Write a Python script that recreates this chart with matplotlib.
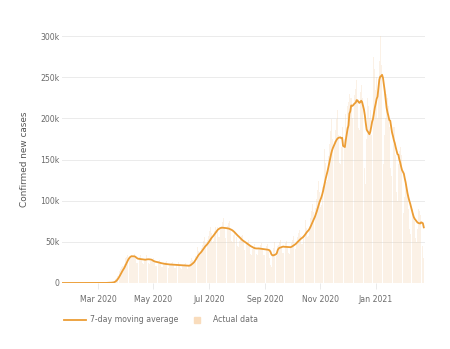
import numpy as np
import pandas as pd
import matplotlib
matplotlib.use("Agg")
import matplotlib.pyplot as plt
from matplotlib.lines import Line2D

start_date = "2020-01-22"

# daily confirmed new cases (thousands), one row per week, Wed..Tue
daily_k = [
    0, 0, 0, 0, 0, 0, 0,
    0, 0, 0, 0, 0, 0, 0,
    0, 0, 0, 0, 0, 0, 0,
    0, 0, 0, 0, 0, 0, 0,
    0, 0, 0, 0, 0, 0, 0,
    0, 0, 0, 0, 0, 0.05, 0.1,
    0.03, 0.05, 0.07, 0.1, 0.1, 0.15, 0.2,
    0.3, 0.4, 0.5, 0.5, 0.6, 0.6, 0.8,
    1.8, 3.0, 4.5, 6.5, 8.5, 11.0, 13.5,
    15.0, 17.5, 19.0, 20.5, 21.0, 23.5, 30.5,
    31.0, 33.5, 35.0, 33.5, 31.0, 30.0, 33.5,
    31.0, 33.0, 34.8, 30.1, 24.5, 24.2, 28.9,
    29.9, 31.9, 33.6, 29.1, 23.7, 23.4, 27.9,
    28.5, 33.5, 35.0, 29.5, 24.0, 22.5, 26.5,
    26.8, 28.6, 30.1, 26.0, 21.2, 20.9, 25.0,
    24.7, 26.3, 27.7, 24.0, 19.5, 19.3, 23.0,
    23.6, 25.2, 26.6, 23.0, 18.7, 18.5, 22.1,
    23.1, 24.6, 26.0, 22.4, 18.3, 18.0, 21.6,
    22.6, 24.1, 25.4, 21.9, 17.8, 17.6, 21.1,
    22.1, 23.5, 24.8, 21.4, 17.4, 17.2, 20.6,
    23.1, 26.9, 30.7, 28.1, 24.1, 25.4, 32.3,
    35.7, 39.8, 43.7, 38.8, 32.8, 33.6, 42.1,
    46.2, 51.0, 55.5, 49.0, 41.1, 41.8, 51.9,
    56.7, 62.7, 68.4, 60.2, 50.2, 50.8, 62.7,
    68.3, 73.9, 79.1, 68.3, 56.0, 55.8, 66.6,
    69.8, 74.5, 78.5, 67.8, 55.2, 54.5, 65.2,
    68.8, 72.8, 75.5, 64.3, 51.5, 50.0, 58.8,
    62.0, 64.4, 66.1, 56.1, 44.8, 43.5, 51.0,
    54.1, 56.6, 58.4, 50.0, 39.8, 38.5, 45.6,
    48.3, 50.4, 51.9, 44.4, 35.3, 34.4, 40.7,
    44.1, 47.0, 49.6, 42.8, 34.9, 34.4, 41.2,
    43.1, 45.9, 48.4, 41.8, 34.0, 33.6, 40.2,
    42.0, 44.5, 47.0, 40.0, 30.0, 22.0, 19.5,
    33.0, 43.0, 50.0, 42.0, 34.0, 33.0, 45.0,
    46.2, 49.3, 51.9, 44.9, 36.5, 36.1, 43.1,
    45.7, 48.7, 51.3, 44.4, 36.1, 35.7, 42.6,
    48.3, 52.6, 56.6, 50.0, 41.5, 41.8, 51.0,
    55.7, 60.5, 64.9, 57.1, 47.3, 47.6, 57.8,
    64.1, 70.6, 76.7, 67.3, 55.6, 56.6, 69.6,
    78.8, 87.4, 95.6, 85.7, 72.2, 73.8, 91.1,
    101.9, 113.1, 123.9, 110.2, 92.1, 94.3, 116.6,
    132.3, 147.8, 162.8, 145.9, 122.8, 125.5, 154.8,
    169.1, 184.8, 199.4, 174.4, 143.6, 143.5, 172.5,
    186, 199, 210, 180, 146, 145, 165,
    190, 130, 205, 175, 205, 190, 215,
    220, 230, 225, 225, 200, 195, 225,
    228, 236, 246, 222, 188, 186, 232,
    240, 225, 215, 190, 140, 120, 175,
    225, 215, 200, 210, 180, 165, 200,
    275, 260, 235, 250, 200, 240, 270,
    300, 265, 245, 225, 145, 180, 200,
    230, 225, 215, 190, 140, 130, 150,
    200, 190, 190, 155, 110, 100, 145,
    160, 165, 155, 125, 95, 85, 105,
    125, 120, 110, 90, 65, 60, 75,
    95, 90, 85, 75, 55, 50, 65,
    90, 88, 83, 85, 52, 45, 30,
]

ytick_values = [0, 50000, 100000, 150000, 200000, 250000, 300000]
ytick_labels = ["0", "50k", "100k", "150k", "200k", "250k", "300k"]
xtick_dates = ["2020-03-01", "2020-05-01", "2020-07-01", "2020-09-01",
               "2020-11-01", "2021-01-01"]
xtick_labels = ["Mar 2020", "May 2020", "Jul 2020", "Sep 2020",
                "Nov 2020", "Jan 2021"]

daily = pd.Series(np.array(daily_k) * 1000.0,
                  index=pd.date_range(start_date, periods=len(daily_k)))
avg7 = daily.rolling(7, min_periods=1).mean()

line_col = "#ec9d35"
bar_col = "#f2cfa8"
txt_col = "#6b6b6b"

fig = plt.figure(figsize=(4.5, 3.49), dpi=100)
ax = fig.add_axes([61.8 / 450, 1 - 283 / 349, 362.9 / 450, 247 / 349])

ax.bar(daily.index, daily.values, width=0.9, color=bar_col, alpha=0.28,
       linewidth=0, zorder=1)
ax.plot(avg7.index, avg7.values, color=line_col, lw=1.3, zorder=3)

ax.set_xlim(daily.index[0] - pd.Timedelta(days=1),
            daily.index[-1] + pd.Timedelta(days=1))
ax.set_ylim(0, 300000)
ax.set_yticks(ytick_values)
ax.set_yticklabels(ytick_labels)
ax.set_xticks(pd.to_datetime(xtick_dates))
ax.set_xticklabels(xtick_labels)
ax.grid(axis="y", color="#ebebeb", lw=0.7, zorder=0)
ax.set_axisbelow(True)
for s in ax.spines.values():
    s.set_visible(False)
ax.tick_params(axis="y", length=0, pad=1.5, labelsize=5.6, labelcolor=txt_col)
ax.tick_params(axis="x", length=4, width=0.6, color="#e6e6e6", pad=5,
               labelsize=5.6, labelcolor=txt_col)
ax.set_ylabel("Confirmed new cases", fontsize=6.4, color="#555555", labelpad=8)

handles = [Line2D([], [], color=line_col, lw=1.3),
           Line2D([], [], marker="s", linestyle="none", markersize=5,
                  color="#f9dcbc")]
fig.legend(handles, ["7-day moving average", "Actual data"],
           loc="center left", bbox_to_anchor=(64 / 450, 1 - 320 / 349),
           ncol=2, frameon=False, fontsize=5.6, handlelength=2.8,
           handletextpad=0.6, columnspacing=1.0, borderpad=0,
           borderaxespad=0, labelcolor=txt_col)

fig.savefig("out.png", dpi=100)
